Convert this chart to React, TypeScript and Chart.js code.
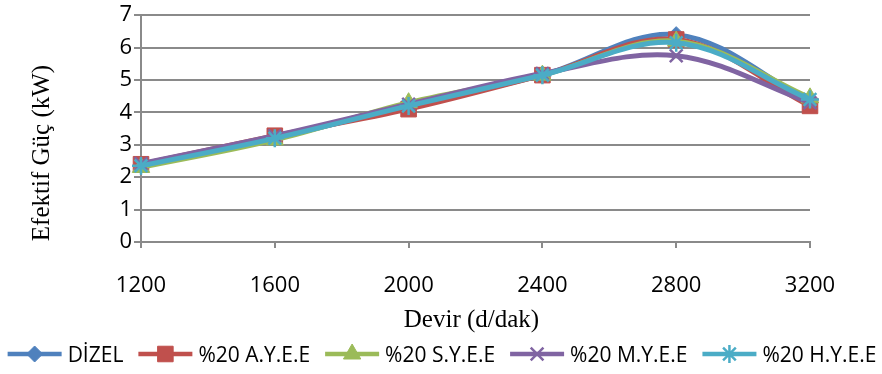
import React, { useEffect, useRef } from 'react';
import { Chart, registerables } from 'chart.js';
import { drawPoint } from 'chart.js/helpers';

Chart.register(...registerables);

// Engine speed categories (d/dak)
const rpmLabels = ['1200', '1600', '2000', '2400', '2800', '3200'];

// Effective power (kW) per fuel blend
const dizel = [2.35, 3.2, 4.2, 5.15, 6.4, 4.35];
const aYee = [2.4, 3.28, 4.1, 5.15, 6.25, 4.2];
const sYee = [2.3, 3.15, 4.3, 5.15, 6.2, 4.45];
const mYee = [2.42, 3.28, 4.25, 5.2, 5.75, 4.3];
const hYee = [2.35, 3.2, 4.2, 5.15, 6.15, 4.4];

const seriesNames = ['DİZEL', '%20 A.Y.E.E', '%20 S.Y.E.E', '%20 M.Y.E.E', '%20 H.Y.E.E'];
const seriesValues = [dizel, aYee, sYee, mYee, hYee];
const seriesColors = ['#4F81BD', '#C0504D', '#9BBB59', '#8064A2', '#4BACC6'];
const seriesMarkers = ['rectRot', 'rect', 'triangle', 'crossRot', 'star'];
const markerRadius = [8, 11, 10, 9, 9];
const markerBorder = [1, 1, 1, 2.5, 2.5];

const xTitle = 'Devir (d/dak)';
const yTitle = 'Efektif Güç (kW)';

const GRID = '#8a8a8a';
const TICK_FONT = '"Open Sans", "Noto Sans", sans-serif';
const SERIF = '"Liberation Serif", "DejaVu Serif", serif';

const decorPlugin = {
  id: 'decor',
  afterDraw(chart: any) {
    const ctx: CanvasRenderingContext2D = chart.ctx;
    const area = chart.chartArea;
    ctx.save();
    ctx.fillStyle = '#000';
    ctx.font = `25px ${SERIF}`;
    ctx.textAlign = 'center';
    ctx.textBaseline = 'alphabetic';
    // axis titles
    ctx.fillText(xTitle, (area.left + area.right) / 2 - 4, 327);
    ctx.save();
    ctx.translate(49, 153);
    ctx.rotate(-Math.PI / 2);
    ctx.fillText(yTitle, 0, 0);
    ctx.restore();

    // legend: line sample with marker, then name
    ctx.font = `21px ${TICK_FONT}`;
    ctx.textAlign = 'left';
    const lineLen = 54;
    const gapText = 6;
    const gapItem = 15;
    const widths = seriesNames.map((n) => ctx.measureText(n).width);
    const total = widths.reduce((s, w) => s + lineLen + gapText + w, 0) + gapItem * (seriesNames.length - 1);
    let x = 442 - total / 2;
    const ly = 354;
    seriesNames.forEach((name, i) => {
      ctx.strokeStyle = seriesColors[i];
      ctx.fillStyle = seriesColors[i];
      ctx.lineWidth = 4.5;
      ctx.beginPath();
      ctx.moveTo(x, ly);
      ctx.lineTo(x + lineLen, ly);
      ctx.stroke();
      ctx.lineWidth = markerBorder[i];
      drawPoint(ctx, {
        pointStyle: seriesMarkers[i],
        radius: markerRadius[i],
        borderWidth: markerBorder[i],
        rotation: 0,
      } as any, x + lineLen / 2, ly);
      ctx.fillStyle = '#000';
      ctx.fillText(name, x + lineLen + gapText, 362);
      x += lineLen + gapText + widths[i] + gapItem;
    });
    ctx.restore();
  },
};

export default function App() {
  const canvasRef = useRef<HTMLCanvasElement | null>(null);

  useEffect(() => {
    const canvas = canvasRef.current;
    if (!canvas) return;
    const datasets = seriesNames.map((name, i) => ({
      label: name,
      data: seriesValues[i],
      borderColor: seriesColors[i],
      backgroundColor: seriesColors[i],
      pointBackgroundColor: seriesColors[i],
      pointBorderColor: seriesColors[i],
      pointStyle: seriesMarkers[i],
      pointRadius: markerRadius[i],
      pointBorderWidth: markerBorder[i],
      borderWidth: 5,
      tension: 0.35,
      fill: false,
      clip: false,
      order: seriesNames.length - 1 - i,
    }));

    const chart = new Chart(canvas, {
      type: 'line',
      data: { labels: rpmLabels, datasets },
      options: {
        responsive: false,
        animation: false,
        devicePixelRatio: 1,
        layout: { padding: { top: 0, right: 72, bottom: 0, left: 0 } },
        plugins: {
          legend: { display: false },
          tooltip: { enabled: false },
          title: { display: false },
        },
        scales: {
          x: {
            type: 'category',
            offset: false,
            grid: {
              display: true,
              drawOnChartArea: false,
              drawTicks: true,
              tickLength: 6,
              color: GRID,
              lineWidth: 2,
            },
            border: { display: true, color: GRID, width: 2 },
            ticks: {
              color: '#000',
              font: { family: TICK_FONT, size: 22, lineHeight: 1.2 },
              padding: 25,
              maxRotation: 0,
              autoSkip: false,
            },
            afterFit: (s: any) => {
              s.height = 132;
            },
          },
          y: {
            min: 0,
            max: 7,
            grid: { color: GRID, lineWidth: 2, tickLength: 7, drawTicks: true },
            border: { display: true, color: GRID, width: 2 },
            ticks: {
              stepSize: 1,
              color: '#000',
              font: { family: TICK_FONT, size: 22, lineHeight: 1.2 },
              padding: 2,
            },
            afterFit: (s: any) => {
              s.width = 141;
            },
          },
        },
      },
      plugins: [decorPlugin],
    } as any);

    return () => chart.destroy();
  }, []);

  return (
    <div style={{ position: 'fixed', left: 0, top: 0, width: 882, height: 374, background: '#fff' }}>
      <canvas ref={canvasRef} width={882} height={374} style={{ display: 'block', width: 882, height: 374 }} />
    </div>
  );
}
